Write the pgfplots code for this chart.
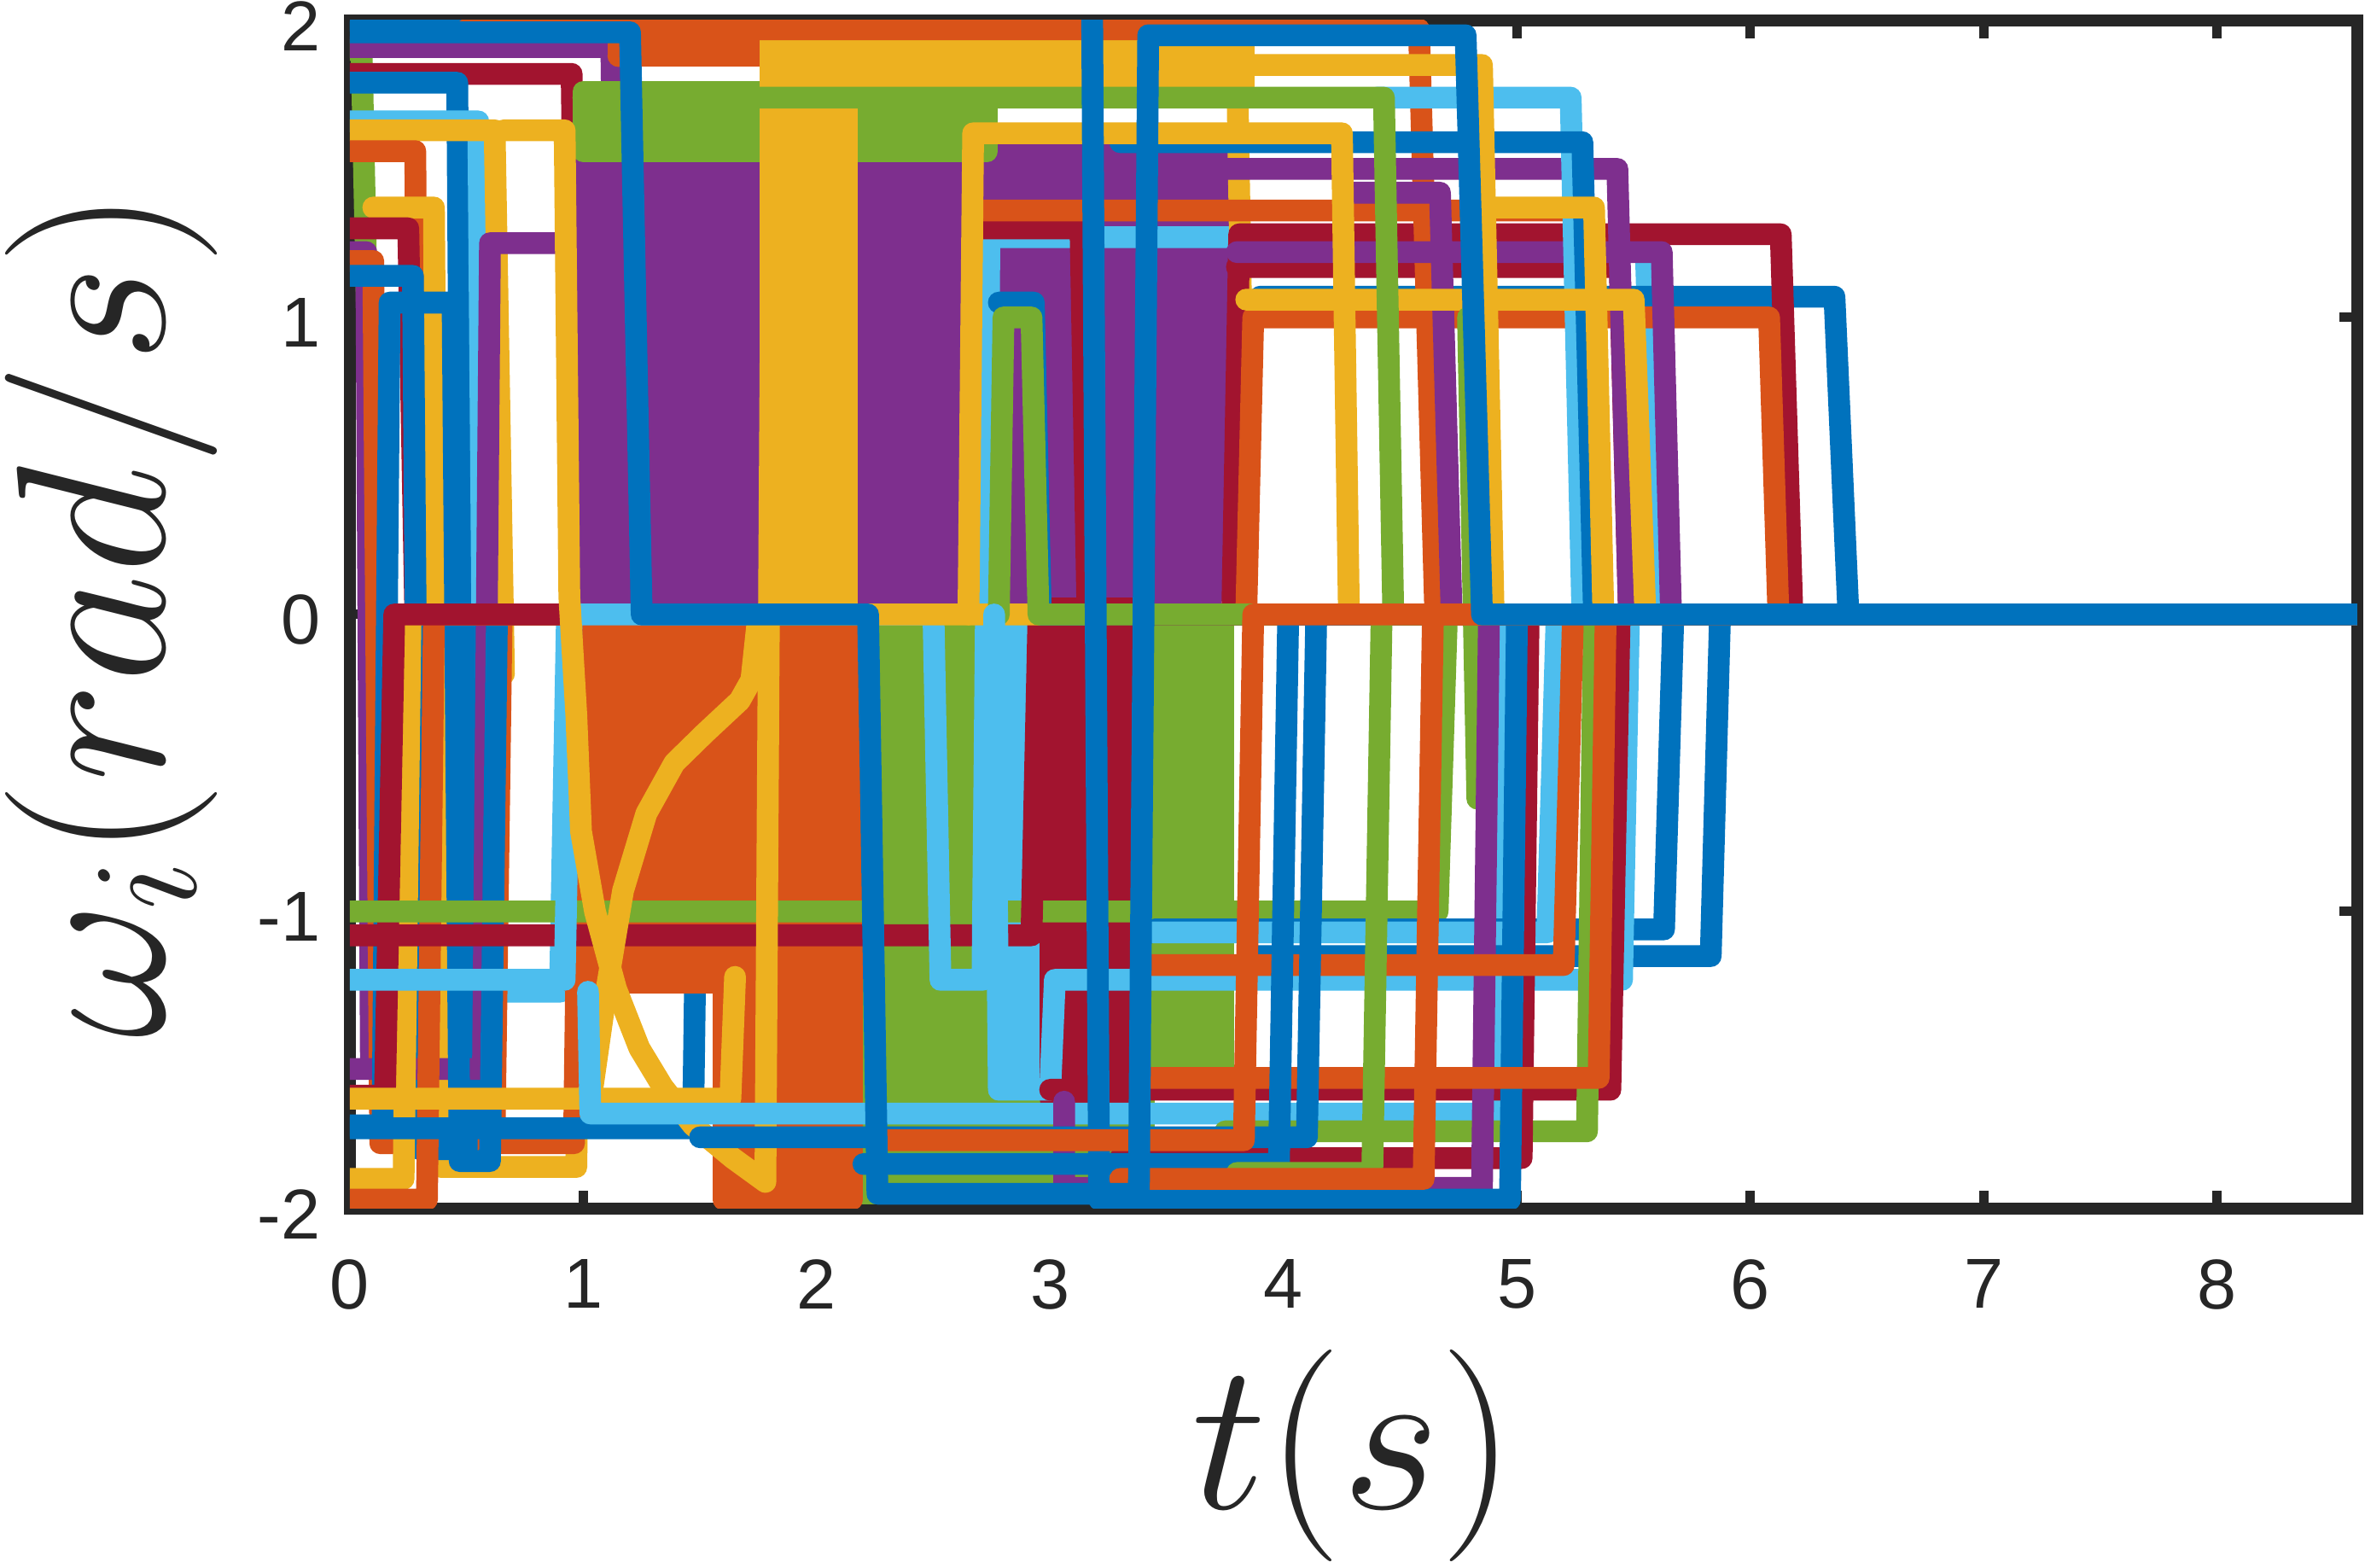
\RequirePackage{fix-cm}
\documentclass[border=0pt]{standalone}
\usepackage[no-math]{fontspec}
\setmainfont{Liberation Sans}
\usepackage{pgfplots}
\pgfplotsset{compat=1.18}
\definecolor{cB}{RGB}{0,114,189}
\definecolor{cO}{RGB}{217,83,25}
\definecolor{cY}{RGB}{237,177,32}
\definecolor{cP}{RGB}{126,47,142}
\definecolor{cG}{RGB}{119,172,48}
\definecolor{cL}{RGB}{77,190,238}
\definecolor{cR}{RGB}{162,20,47}
\begin{document}
\begin{tikzpicture}
\begin{axis}[
  scale only axis, width=340.87pt, height=201.74pt,
  xmin=0, xmax=8.6, ymin=-2, ymax=2,
  xtick={0,1,2,3,4,5,6,7,8}, xticklabels={0,1,2,3,4,5,6,7,8},
  ytick={-2,-1,0,1,2}, yticklabels={-2,-1,0,1,2},
  tick align=inside,
  major tick length=3.1pt,
  every tick/.style={line width=1.6pt, black!85},
  axis line style={line width=2pt, black!85},
  ticklabel style={font=\fontsize{12}{14}\selectfont, text=black!85, inner sep=0pt},
  xticklabel style={yshift=-8.5pt},
  yticklabel style={xshift=-4.8pt, yshift=-0.9pt},
  xlabel={$t(s)$}, ylabel={$\omega_i(rad/s)$},
  label style={font=\fontsize{36}{40}\selectfont, text=black!85},
  xlabel style={at={(axis description cs:0.5,-0.2076)}, anchor=center},
  ylabel style={at={(axis description cs:-0.119,0.5)}, anchor=center},
  every axis plot/.append style={line width=3.7pt, line join=round, line cap=round},
  no markers,
]
% ---- left region lines (under fills)
\addplot[draw=cG] coordinates {(0,1.9)(0.05,1.9)(0.1,0)(8.6,0)};
\addplot[draw=cB] coordinates {(0,2.0)(1.13,2.0)(1.17,0)(8.6,0)};
\addplot[draw=cP] coordinates {(0,1.91)(1.12,1.91)(1.15,0)(8.6,0)};
\addplot[draw=cR] coordinates {(0,1.82)(0.95,1.82)(0.98,0)(8.6,0)};
\addplot[draw=cB] coordinates {(0,1.79)(0.46,1.79)(0.49,-1.8)(0.58,-1.8)(0.61,0)(8.6,0)};
\addplot[draw=cL] coordinates {(0,1.66)(0.55,1.66)(0.58,-1.27)(0.9,-1.27)(0.93,0)(8.6,0)};
\addplot[draw=cY] coordinates {(0,1.63)(0.62,1.63)(0.66,-0.2)};
\addplot[draw=cO] coordinates {(0,1.56)(0.28,1.56)(0.31,-1.74)(0.62,-1.74)(0.65,0)(8.6,0)};
\addplot[draw=cP] coordinates {(0,1.22)(0.07,1.22)(0.09,-1.52)(0.2,-1.52)(0.22,0)(8.6,0)};
\addplot[draw=cY] coordinates {(0.1,1.37)(0.36,1.37)(0.39,-1.86)(0.97,-1.86)(1.0,0)(8.6,0)};
\addplot[draw=cR] coordinates {(0,1.3)(0.25,1.3)(0.28,0)(8.6,0)};
\addplot[draw=cO] coordinates {(0,1.19)(0.1,1.19)(0.13,-1.78)(0.96,-1.78)(0.99,0)(8.6,0)};
\addplot[draw=cB] coordinates {(0,1.14)(0.27,1.14)(0.3,-1.8)(0.5,-1.8)(0.53,0)(8.6,0)};
\addplot[draw=cP] coordinates {(0,-1.53)(0.57,-1.53)(0.6,1.25)(0.95,1.25)(0.98,0)(8.6,0)};
\addplot[draw=cB] coordinates {(0,-1.72)(0.14,-1.72)(0.17,1.05)(0.44,1.05)(0.47,-1.84)(0.6,-1.84)(0.63,0)(8.6,0)};
\addplot[draw=cY] coordinates {(0,-1.9)(0.23,-1.9)(0.26,0)(8.6,0)};
\addplot[draw=cO] coordinates {(0,-1.97)(0.33,-1.97)(0.36,0)(8.6,0)};
\addplot[draw=cB] coordinates {(0,-1.73)(1.47,-1.73)(1.5,0)(8.6,0)};
\addplot[draw=cR] coordinates {(0,-1.62)(0.15,-1.62)(0.19,0)(8.6,0)};
% ---- filled (chattering) regions
\addplot[draw=cP, fill=cP] coordinates {(0.98,0)(0.98,1.57)(3.72,1.57)(3.72,0.35)(3.69,0.05)(0.98,0)};
\addplot[draw=cG, fill=cG] coordinates {(1.0,1.56)(1.0,1.76)(2.73,1.76)(2.73,1.56)(1.0,1.56)};
\addplot[draw=cG, fill=cG] coordinates {(1.68,0)(3.74,0)(3.74,-1.55)(3.4,-1.55)(3.4,-1.9)(2.3,-1.9)(2.3,-1.95)(1.68,-1.95)(1.68,0)};
\addplot[draw=cO, fill=cO] coordinates {(0.95,-0.03)(2.15,-0.03)(2.15,-1.97)(1.6,-1.97)(1.6,-1.24)(0.95,-1.24)(0.95,-0.03)};
\addplot[draw=cO, fill=cO] coordinates {(1.15,1.88)(3.2,1.88)(3.2,1.98)(1.15,1.98)(1.15,1.88)};
\addplot[draw=cL, fill=cL] coordinates {(2.78,0)(3.0,0)(3.0,-1.6)(2.78,-1.6)(2.78,0)};
\addplot[draw=cR, fill=cR] coordinates {(3.0,0.02)(3.35,0.02)(3.35,-1.63)(3.0,-1.63)(3.0,0.02)};
\addplot[draw=cY, fill=cY] coordinates {(1.8,0)(1.8,1.93)(3.83,1.93)(3.83,1.78)(2.13,1.78)(2.13,0)(1.8,0)};
% ---- lines over fills
\addplot[draw=cG] coordinates {(0,-1.0)(4.66,-1.0)(4.7,0)(8.6,0)};
\addplot[draw=cR] coordinates {(0,-1.08)(2.92,-1.08)(2.95,0)(8.6,0)};
\addplot[draw=cL] coordinates {(0,-1.23)(0.92,-1.23)(0.95,0)(2.5,0)(2.53,-1.23)(2.71,-1.23)(2.74,1.27)(5.55,1.27)(5.6,0)(8.6,0)};
\addplot[draw=cY] coordinates {(0.66,1.63)(0.92,1.63)(0.94,0.06)(0.97,-0.34)(0.99,-0.73)(1.05,-1.0)(1.14,-1.26)(1.24,-1.46)(1.34,-1.59)(1.47,-1.72)(1.64,-1.83)(1.78,-1.91)(1.81,1.88)(3.8,1.88)(3.84,0)(8.6,0)};
\addplot[draw=cY] coordinates {(0,-1.63)(1.0,-1.63)(1.04,-1.59)(1.1,-1.26)(1.17,-0.93)(1.27,-0.67)(1.39,-0.5)(1.52,-0.4)(1.67,-0.29)(1.72,-0.22)(1.75,0)(8.6,0)};
\addplot[draw=cY] coordinates {(1.04,-1.63)(1.63,-1.63)(1.65,-1.22)};
\addplot[draw=cL] coordinates {(1.02,-1.27)(1.03,-1.68)(4.9,-1.68)(4.93,0)(8.6,0)};
\addplot[draw=cB] coordinates {(2.78,1.05)(2.93,1.05)(2.96,0)(8.6,0)};
\addplot[draw=cB] coordinates {(3.9,1.07)(6.36,1.07)(6.42,0)(8.6,0)};
\addplot[draw=cR] coordinates {(3.78,0)(3.81,1.28)(6.13,1.28)(6.18,0)(8.6,0)};
\addplot[draw=cR] coordinates {(2.7,1.3)(3.13,1.3)(3.16,0)(8.6,0)};
\addplot[draw=cR] coordinates {(3.8,1.17)(5.44,1.17)(5.48,0)(8.6,0)};
\addplot[draw=cO] coordinates {(3.84,0)(3.87,1.0)(6.08,1.0)(6.12,0)(8.6,0)};
\addplot[draw=cO] coordinates {(0.5,1.97)(4.58,1.97)(4.65,0)(8.6,0)};
\addplot[draw=cO] coordinates {(2.68,1.36)(5.3,1.36)(5.34,0)(8.6,0)};
\addplot[draw=cP] coordinates {(3.7,1.5)(5.43,1.5)(5.48,0)(8.6,0)};
\addplot[draw=cP] coordinates {(3.8,1.22)(5.62,1.22)(5.66,0)(8.6,0)};
\addplot[draw=cP] coordinates {(4.3,1.42)(4.67,1.42)(4.72,0)(8.6,0)};
\addplot[draw=cL] coordinates {(4.4,1.74)(5.23,1.74)(5.28,0)(8.6,0)};
\addplot[draw=cB] coordinates {(3.3,1.59)(5.28,1.59)(5.33,0)(8.6,0)};
\addplot[draw=cY] coordinates {(3.83,1.85)(4.85,1.85)(4.9,0)(8.6,0)};
\addplot[draw=cY] coordinates {(2.65,0)(2.67,1.62)(4.25,1.62)(4.28,0)(8.6,0)};
\addplot[draw=cY] coordinates {(4.83,0)(4.86,1.37)(5.33,1.37)(5.37,0)(8.6,0)};
\addplot[draw=cY] coordinates {(3.84,1.06)(5.5,1.06)(5.55,0)(8.6,0)};
\addplot[draw=cG] coordinates {(1.0,1.74)(4.43,1.74)(4.47,0)(8.6,0)};
\addplot[draw=cG] coordinates {(2.78,0)(2.8,1.0)(2.92,1.0)(2.95,0)(8.6,0)};
\addplot[draw=cG] coordinates {(4.79,1.0)(4.83,-0.62)};
% ---- lower right
\addplot[draw=cB] coordinates {(3.87,-1.15)(5.83,-1.15)(5.87,0)(8.6,0)};
\addplot[draw=cB] coordinates {(3.45,-1.06)(5.63,-1.06)(5.67,0)(8.6,0)};
\addplot[draw=cL] coordinates {(2.76,0)(2.78,-1.6)(3.0,-1.6)(3.02,-1.23)(5.45,-1.23)(5.48,0)(8.6,0)};
\addplot[draw=cL] coordinates {(3.44,-1.07)(5.13,-1.07)(5.17,0)(8.6,0)};
\addplot[draw=cR] coordinates {(3.0,-1.6)(5.4,-1.6)(5.44,0)(8.6,0)};
\addplot[draw=cG] coordinates {(3.75,-1.74)(5.3,-1.74)(5.33,0)(8.6,0)};
\addplot[draw=cR] coordinates {(3.3,-1.83)(5.02,-1.83)(5.05,0)(8.6,0)};
\addplot[draw=cP] coordinates {(3.06,-1.64)(3.06,-1.93)(4.85,-1.93)(4.88,0)(8.6,0)};
\addplot[draw=cB] coordinates {(3.18,2.0)(3.21,-1.97)(4.97,-1.97)(5.0,0)(8.6,0)};
\addplot[draw=cO] coordinates {(3.42,-1.18)(5.2,-1.18)(5.24,0)(8.6,0)};
\addplot[draw=cO] coordinates {(3.4,-1.56)(5.35,-1.56)(5.38,0)(8.6,0)};
\addplot[draw=cB] coordinates {(1.5,-1.76)(4.1,-1.76)(4.14,0)(8.6,0)};
\addplot[draw=cB] coordinates {(2.2,-1.85)(3.98,-1.85)(4.02,0)(8.6,0)};
\addplot[draw=cG] coordinates {(3.8,-1.88)(4.38,-1.88)(4.42,0)(8.6,0)};
\addplot[draw=cO] coordinates {(3.3,-1.9)(4.6,-1.9)(4.64,0)(8.6,0)};
\addplot[draw=cO] coordinates {(2.3,-1.77)(3.83,-1.77)(3.87,0)(8.6,0)};
% ---- last series (on top)
\addplot[draw=cB] coordinates {(0,1.96)(1.2,1.96)(1.25,0)(2.22,0)(2.26,-1.95)(3.38,-1.95)(3.42,1.95)(4.78,1.95)(4.85,0)(8.6,0)};
\end{axis}
\pgfresetboundingbox
\path[use as bounding box] (-59.42pt,-61.01pt) rectangle (342.17pt,205.2pt);
\end{tikzpicture}
\end{document}
